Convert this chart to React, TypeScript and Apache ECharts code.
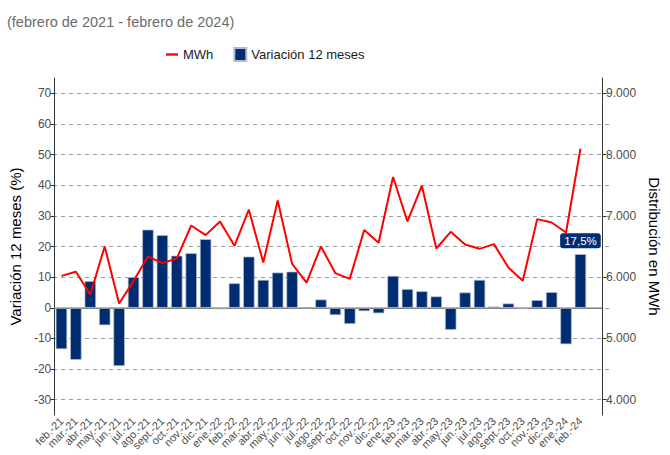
import React, { useEffect, useRef } from "react";
import * as echarts from "echarts";

const months = [
  "feb.-21", "mar.-21", "abr.-21", "may.-21", "jun.-21", "jul.-21", "ago.-21", "sept.-21", "oct.-21", "nov.-21", "dic.-21",
  "ene.-22", "feb.-22", "mar.-22", "abr.-22", "may.-22", "jun.-22", "jul.-22", "ago.-22", "sept.-22", "oct.-22", "nov.-22", "dic.-22",
  "ene.-23", "feb.-23", "mar.-23", "abr.-23", "may.-23", "jun.-23", "jul.-23", "ago.-23", "sept.-23", "oct.-23", "nov.-23", "dic.-23",
  "ene.-24", "feb.-24",
];

const variacion = [
  -13.5, -17.0, 8.7, -5.7, -19.0, 10.0, 25.5, 23.7, 17.0, 17.8, 22.4,
  -0.5, 8.0, 16.7, 9.1, 11.5, 11.8, 0.0, 2.7, -2.4, -5.3, -1.1, -1.8,
  10.4, 6.1, 5.4, 3.7, -7.2, 5.0, 9.1, 0.4, 1.4, -0.4, 2.5, 5.1,
  -11.9, 17.5,
];

const mwh = [
  6021, 6087, 5716, 6500, 5569, 5935, 6337, 6229, 6304, 6843, 6686,
  6909, 6511, 7100, 6239, 7252, 6217, 5912, 6500, 6065, 5972, 6768, 6560,
  7634, 6909, 7492, 6467, 6740, 6533, 6462, 6539, 6157, 5940, 6947, 6892,
  6729, 8096,
];

const leftTicks = [-30, -20, -10, 0, 10, 20, 30, 40, 50, 60, 70];
const rightTicks = [4000, 5000, 6000, 7000, 8000, 9000];

const NAVY = "#002D72";
const W = 670;
const H = 455;
const FONT = "'Liberation Sans', Arial, sans-serif";

export default function App() {
  const ref = useRef<HTMLDivElement>(null);

  useEffect(() => {
    document.body.style.margin = "0";
    const chart = echarts.init(ref.current!, null, { renderer: "svg" });

    const gTop = 78;
    const gBottom = 40;
    const lMin = -35;
    const lMax = 75;
    const plotH = H - gTop - gBottom;
    const pxPerUnit = plotH / (lMax - lMin);
    const g2Top = gTop + (lMax - 70) * pxPerUnit;
    const g2Bottom = gBottom + (-30 - lMin) * pxPerUnit;

    const axisColor = "#333333";
    const labelColor = "#4d4d4d";

    chart.setOption({
      animation: false,
      title: {
        text: "(febrero de 2021 - febrero de 2024)",
        left: 7,
        top: 14,
        padding: 0,
        textStyle: {
          fontFamily: FONT,
          fontSize: 14.5,
          fontWeight: "normal",
          color: "#6b6b6b",
        },
      },
      legend: {
        left: 166,
        top: 47,
        padding: 0,
        itemWidth: 12,
        itemHeight: 13,
        itemGap: 20,
        symbolKeepAspect: true,
        data: [
          { name: "MWh", icon: "path://M0,0L10,0L10,2L0,2Z" },
          { name: "Variación 12 meses", icon: "rect" },
        ],
        textStyle: {
          fontFamily: FONT,
          fontSize: 13,
          color: "#1a1a1a",
        },
      },
      grid: [
        { left: 53, right: 59, top: gTop, bottom: gBottom },
        { left: 53, right: 59, top: g2Top, bottom: g2Bottom },
      ],
      xAxis: [
        {
          type: "category",
          gridIndex: 0,
          data: [...months, ""],
          boundaryGap: true,
          axisLine: { lineStyle: { color: axisColor, width: 1 } },
          axisTick: {
            alignWithLabel: true,
            length: 4,
            interval: (i: number) => i < months.length,
            lineStyle: { color: axisColor },
          },
          axisLabel: {
            interval: 0,
            rotate: 45,
            margin: 4,
            fontSize: 11,
            color: labelColor,
            fontFamily: FONT,
          },
        },
        { type: "value", gridIndex: 1, show: false, min: 0, max: 1 },
      ],
      yAxis: [
        {
          type: "value",
          gridIndex: 0,
          position: "left",
          min: lMin,
          max: lMax,
          splitLine: { show: false },
          axisLine: { show: true, lineStyle: { color: axisColor, width: 1 } },
          axisTick: { show: true, length: 4, customValues: leftTicks, lineStyle: { color: axisColor } },
          axisLabel: {
            customValues: leftTicks,
            fontSize: 12,
            margin: 3,
            color: labelColor,
            fontFamily: FONT,
          },
          name: "Variación 12 meses (%)",
          nameLocation: "middle",
          nameGap: 27,
          nameTextStyle: { fontSize: 15, color: "#000", fontFamily: FONT },
        },
        {
          type: "value",
          gridIndex: 0,
          position: "right",
          min: 3750,
          max: 9250,
          splitLine: { show: false },
          axisLine: { show: true, lineStyle: { color: axisColor, width: 1 } },
          axisTick: { show: true, length: 4, customValues: rightTicks, lineStyle: { color: axisColor } },
          axisLabel: {
            customValues: rightTicks,
            fontSize: 12,
            margin: 4,
            color: labelColor,
            fontFamily: FONT,
            formatter: (v: number) => String(Math.round(v / 1000)) + ".000",
          },
          name: "Distribución en MWh",
          nameLocation: "middle",
          nameRotate: -90,
          nameGap: 37,
          nameTextStyle: { fontSize: 15, color: "#000", fontFamily: FONT },
        },
        {
          type: "value",
          gridIndex: 1,
          min: -30,
          max: 70,
          interval: 10,
          axisLine: { show: false },
          axisTick: { show: false },
          axisLabel: { show: false },
          splitLine: { show: true, lineStyle: { color: "#9a9a9a", width: 1, type: [4, 4] } },
        },
      ],
      series: [
        {
          name: "Variación 12 meses",
          type: "bar",
          xAxisIndex: 0,
          yAxisIndex: 0,
          barWidth: "79%",
          z: 2,
          itemStyle: { color: NAVY, borderColor: "#b3bdd0", borderWidth: 0.7 },
          data: variacion.map((v, i) =>
            i === variacion.length - 1
              ? {
                  value: v,
                  label: {
                    show: true,
                    position: "top",
                    distance: 6,
                    formatter: (p: any) => p.value.toFixed(1).replace(".", ",") + "%",
                    color: "#fff",
                    backgroundColor: NAVY,
                    borderRadius: 3,
                    padding: [2, 4, 1, 4],
                    fontSize: 11.5,
                    fontFamily: FONT,
                  },
                }
              : v
          ),
          markLine: {
            silent: true,
            symbol: "none",
            label: { show: false },
            lineStyle: { color: "#a0a0a0", type: "solid", width: 1.5 },
            data: [{ yAxis: 0 }],
          },
        },
        {
          name: "MWh",
          type: "line",
          xAxisIndex: 0,
          yAxisIndex: 1,
          data: mwh,
          showSymbol: false,
          symbol: "none",
          z: 3,
          lineStyle: { color: "#FF0000", width: 2 },
          itemStyle: { color: "#FF0000" },
        },
      ],
    });

    return () => chart.dispose();
  }, []);

  return <div ref={ref} style={{ width: W, height: H }} />;
}
